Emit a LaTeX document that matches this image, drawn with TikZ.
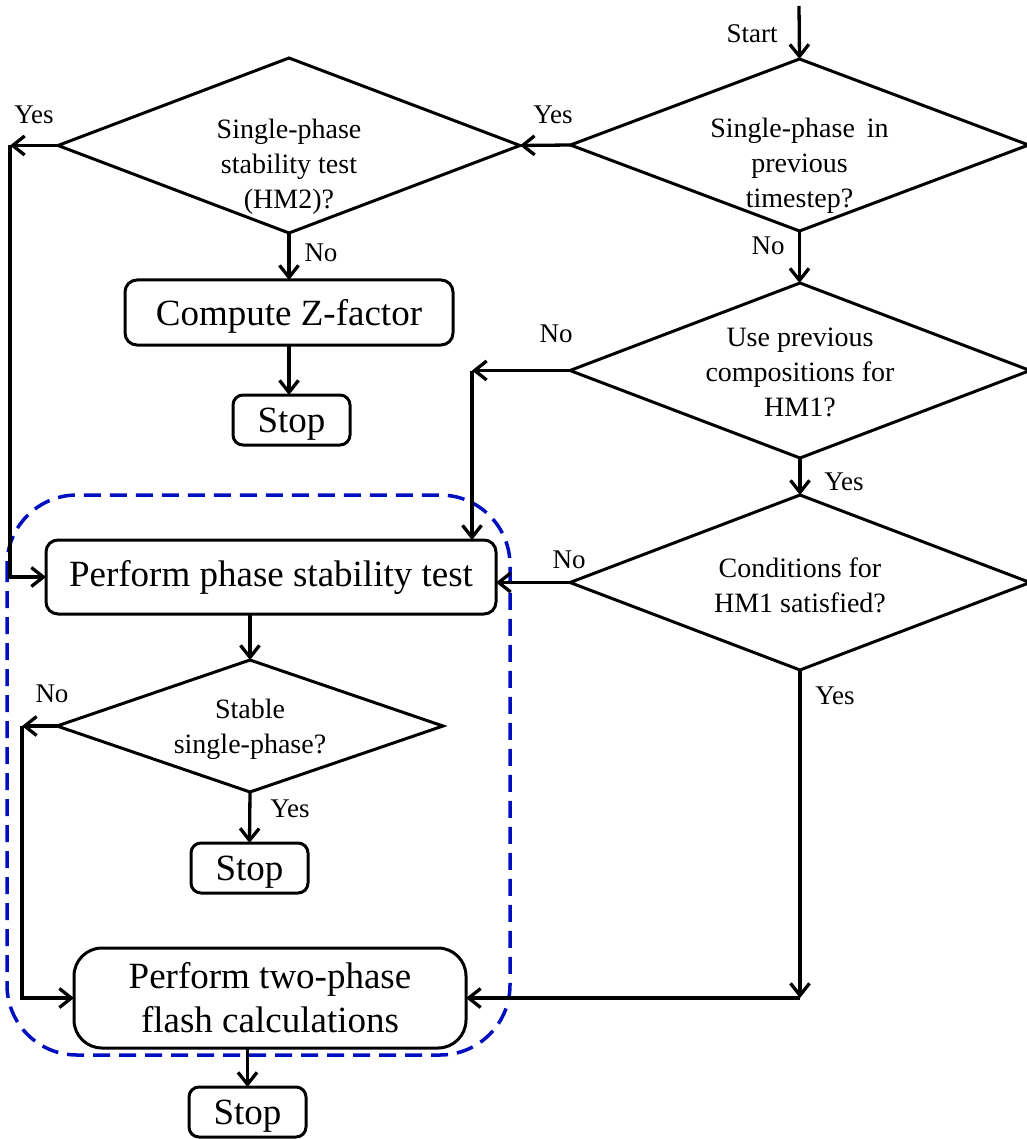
\documentclass[tikz,border=0pt]{standalone}
\usepackage{fontspec}
\setmainfont{Liberation Serif}
\usetikzlibrary{shapes.geometric,arrows.meta}
\definecolor{groupblue}{RGB}{0,16,192}

\begin{document}
\begin{tikzpicture}[x=1pt,y=-1pt,
  flow/.style={line width=3.3pt,-{Straight Barb[length=12pt,width=19pt]}},
  decision/.style={draw,line width=3pt,shape=diamond,inner sep=0pt,outer sep=0pt},
  dtext/.style={align=center,font=\fontsize{28}{35}\selectfont,inner sep=0pt},
  tag/.style={font=\fontsize{27}{32}\selectfont,inner sep=0pt},
  procbox/.style={draw,line width=3pt,rounded corners=12pt,font=\fontsize{37}{44}\selectfont,inner sep=0pt,outer sep=0pt},
  stopbox/.style={procbox,rounded corners=10pt,minimum width=117pt,minimum height=50pt,text depth=0pt},
  group/.style={draw=groupblue,line width=3.5pt,dash pattern=on 17pt off 9pt,rounded corners=70pt}]

\useasboundingbox (0,0) rectangle (1026,1139);

% dashed frame around the phase-stability / flash block
\draw[group] (7,495) rectangle (510,1055);

% decisions
\node[decision,minimum width=458pt,minimum height=172pt] (d1) at (799.5,145) {};
\node[dtext] (d1t) at (799.5,166) {Single-phase\hspace{12pt}in\\previous\\timestep?};

\node[decision,minimum width=462pt,minimum height=175pt] (d2) at (289,145.5) {};
\node[dtext] (d2t) at (289,167) {Single-phase\\stability test\\(HM2)?};

\node[decision,minimum width=460pt,minimum height=175pt] (d3) at (800,370.5) {};
\node[dtext] (d3t) at (800,372) {Use previous\\compositions for\\HM1?};

\node[decision,minimum width=460pt,minimum height=175pt] (d4) at (800,582.5) {};
\node[dtext] (d4t) at (800,585) {Conditions for\\HM1 satisfied?};

\node[decision,minimum width=386pt,minimum height=132pt] (d5) at (250,726) {};
\node[dtext] (d5t) at (250,729) {Stable\\single-phase?};

% process boxes
\node[procbox,text depth=0pt,minimum width=328pt,minimum height=65pt] (cz) at (289,312.5) {Compute Z-factor\hspace{22pt}};
\node[stopbox] (stop1) at (291.5,420) {Stop};
\node[procbox,minimum width=450pt,minimum height=74pt] (pst) at (271,577) {Perform phase stability test};
\node[stopbox] (stop2) at (249.5,868) {Stop};
\node[procbox,align=center,rounded corners=28pt,minimum width=392pt,minimum height=100pt] (flash) at (270,998) {Perform two-phase\\flash calculations};
\node[stopbox] (stop3) at (247.5,1112) {Stop};

% free ends of connectors
\coordinate (start) at (799,6);
\coordinate (yes2) at (10,145.5);
\coordinate (no3) at (472,370.5);
\coordinate (no5) at (22,726);
\coordinate (yes4) at (d4.south |- flash.east);

% connectors
\draw[flow] (start) -- (d1.north);
\draw[flow] (d1.west) -- (d2.east);
\draw[flow] (d2.west) -- (yes2);
\draw[flow] (yes2) |- (pst.west);
\draw[flow] (d2.south) -- (cz.north);
\draw[flow] (cz.south) -- (cz.south |- stop1.north);
\draw[flow] (d1.south) -- (d1.south |- d3.north);
\draw[flow] (d3.west) -- (no3);
\draw[flow] (no3) -- (no3 |- pst.north);
\draw[flow] (d3.south) -- (d4.north);
\draw[flow] (d4.west) -- (d4.west -| pst.east);
\draw[flow] (d4.south) -- (yes4);
\draw[flow] (yes4) -- (flash.east);
\draw[flow] (d5.north |- pst.south) -- (d5.north);
\draw[flow] (d5.west) -- (no5);
\draw[flow] (no5) |- (flash.west);
\draw[flow] (d5.south) -- (stop2.north);
\draw[flow] (stop3.north |- flash.south) -- (stop3.north);

% branch labels
\node[tag] (lstart) at (752,34) {Start};
\node[tag] (lyes1) at (553,115) {Yes};
\node[tag] (lno1) at (768,246) {No};
\node[tag] (lyes2) at (34,115) {Yes};
\node[tag] (lno2) at (321,253) {No};
\node[tag] (lno3) at (556,334) {No};
\node[tag] (lyes3) at (844,482) {Yes};
\node[tag] (lno4) at (569,560) {No};
\node[tag] (lyes4) at (835,696) {Yes};
\node[tag] (lno5) at (52,694) {No};
\node[tag] (lyes5) at (290,809) {Yes};
\end{tikzpicture}
\end{document}
